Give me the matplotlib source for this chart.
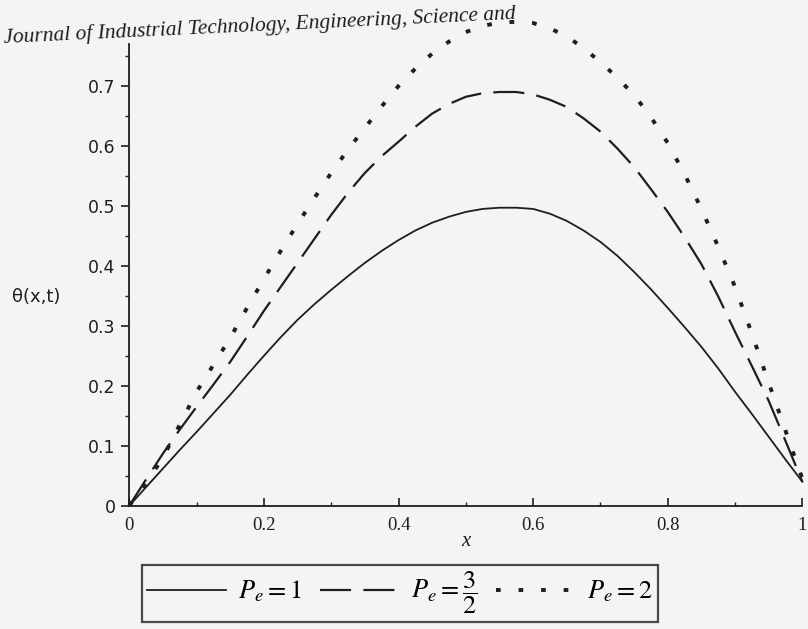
import numpy as np
import matplotlib
matplotlib.use('Agg')
import matplotlib.pyplot as plt
from matplotlib.ticker import MultipleLocator

# values
x = [0.0, 0.025, 0.05, 0.075, 0.1, 0.125, 0.15, 0.175, 0.2, 0.225, 0.25,
     0.275, 0.3, 0.325, 0.35, 0.375, 0.4, 0.425, 0.45, 0.475, 0.5,
     0.525, 0.55, 0.575, 0.6, 0.625, 0.65, 0.675, 0.7, 0.725, 0.75,
     0.775, 0.8, 0.825, 0.85, 0.875, 0.9, 0.925, 0.95, 0.975, 1.0]
theta_pe1 = [0.0, 0.031, 0.062, 0.093, 0.123, 0.154, 0.185, 0.218, 0.25, 0.281, 0.31,
             0.336, 0.36, 0.383, 0.405, 0.425, 0.443, 0.459, 0.472, 0.482, 0.49,
             0.495, 0.497, 0.497, 0.495, 0.487, 0.475, 0.459, 0.44, 0.417, 0.39,
             0.361, 0.33, 0.298, 0.265, 0.229, 0.19, 0.153, 0.115, 0.077, 0.04]
theta_pe15 = [0.0, 0.044, 0.087, 0.127, 0.165, 0.202, 0.24, 0.282, 0.325, 0.365, 0.405,
              0.445, 0.485, 0.522, 0.555, 0.583, 0.607, 0.632, 0.654, 0.67, 0.682,
              0.688, 0.69, 0.69, 0.686, 0.677, 0.665, 0.646, 0.624, 0.596, 0.565,
              0.528, 0.49, 0.448, 0.403, 0.349, 0.29, 0.233, 0.175, 0.108, 0.04]
theta_pe2 = [0.0, 0.038, 0.08, 0.135, 0.19, 0.235, 0.28, 0.33, 0.378, 0.425, 0.47,
             0.513, 0.555, 0.594, 0.63, 0.666, 0.70, 0.729, 0.754, 0.774, 0.79,
             0.80, 0.806, 0.807, 0.805, 0.796, 0.783, 0.763, 0.74, 0.714, 0.685,
             0.648, 0.605, 0.553, 0.495, 0.432, 0.365, 0.287, 0.205, 0.125, 0.045]
labels = [r'$P_e = 1$', r'$P_e = \dfrac{3}{2}$', r'$P_e = 2$']

plt.rcParams['mathtext.fontset'] = 'stix'
ink = '#1e1e1e'

fig = plt.figure(figsize=(8.08, 6.29), dpi=100, facecolor='#f4f4f2')
ax = fig.add_axes([0.16, 0.196, 0.833, 0.734])
ax.set_facecolor('none')

l1, = ax.plot(x, theta_pe1, color=ink, lw=1.3, clip_on=False)
l2, = ax.plot(x, theta_pe15, color=ink, lw=1.6, dashes=(14, 5.5), clip_on=False)
l3, = ax.plot(x, theta_pe2, color=ink, lw=2.8, dashes=(1.2, 4.6), clip_on=False)

ax.set_xlim(0, 1)
ax.set_ylim(0, 0.77)

# maple style axes through the origin
for s in ['top', 'right']:
    ax.spines[s].set_visible(False)
for s in ['left', 'bottom']:
    ax.spines[s].set_linewidth(1.3)
    ax.spines[s].set_color(ink)

ax.xaxis.set_minor_locator(MultipleLocator(0.1))
ax.yaxis.set_minor_locator(MultipleLocator(0.05))
ax.set_xticks([0, 0.2, 0.4, 0.6, 0.8, 1.0])
ax.set_xticklabels(['0', '0.2', '0.4', '0.6', '0.8', '1'], family='Liberation Serif', fontsize=13.5)
ax.set_yticks([0, 0.1, 0.2, 0.3, 0.4, 0.5, 0.6, 0.7])
ax.set_yticklabels(['0', '0.1', '0.2', '0.3', '0.4', '0.5', '0.6', '0.7'], family='DejaVu Sans', fontsize=12.5)
ax.tick_params(axis='x', which='major', direction='in', length=6, width=1.2, colors=ink, pad=8)
ax.tick_params(axis='x', which='minor', direction='in', length=3, width=1, colors=ink)
ax.tick_params(axis='y', which='major', direction='out', length=6, width=1.2, colors=ink, pad=4)
ax.tick_params(axis='y', which='minor', direction='out', length=3, width=1, colors=ink)

ax.set_xlabel('x', family='Liberation Serif', style='italic', fontsize=15, color=ink, labelpad=-1)
fig.text(0.045, 0.528, 'θ(x,t)', family='DejaVu Sans', fontsize=13, color=ink, va='center', ha='center')

leg = fig.legend([l1, l2, l3], labels, ncol=3, loc='center', bbox_to_anchor=(0.495, 0.057),
                 frameon=True, fancybox=False, edgecolor=ink, facecolor='none',
                 fontsize=19, handlelength=3.0, handletextpad=0.45, columnspacing=0.7,
                 borderpad=0.2)
leg.get_frame().set_linewidth(1.6)

fig.text(0.005, 0.932, 'Journal of Industrial Technology, Engineering, Science and',
         family='Liberation Serif', style='italic', fontsize=15.5, color=ink, rotation=2.7,
         rotation_mode='anchor', ha='left', va='baseline')

plt.savefig('out.png', dpi=100, facecolor=fig.get_facecolor())
